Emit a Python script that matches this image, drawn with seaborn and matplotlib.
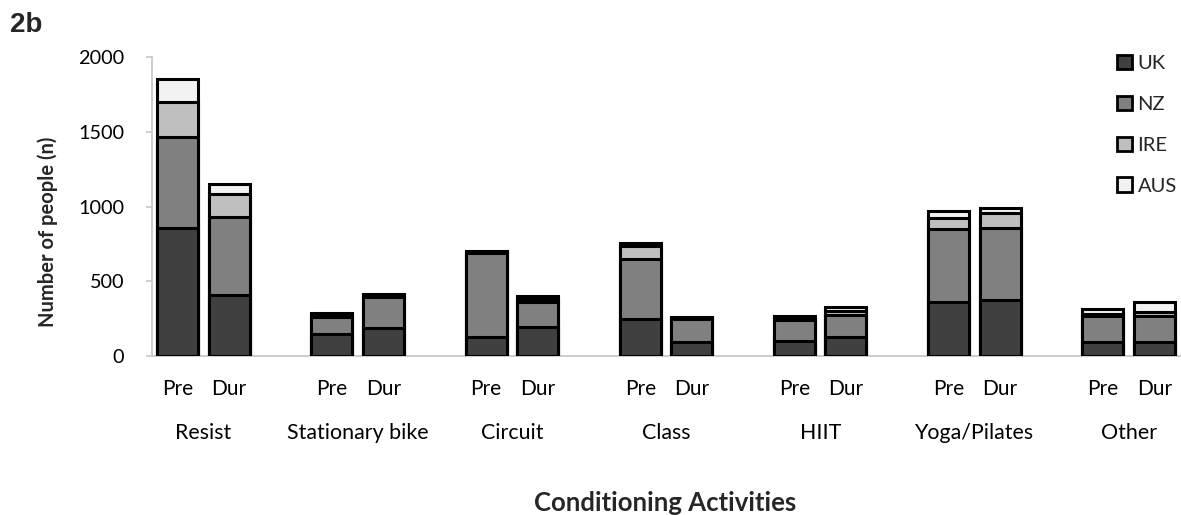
import matplotlib
matplotlib.use("Agg")
import matplotlib.pyplot as plt
from matplotlib.patches import Patch
import seaborn as sns
import pandas as pd
import numpy as np

categories = ["Resist", "Stationary bike", "Circuit", "Class", "HIIT", "Yoga/Pilates", "Other"]
periods = ["Pre", "Dur"]
countries = ["UK", "NZ", "IRE", "AUS"]
# values per bar: (Pre, Dur) for each category in order
uk = [860, 410, 147, 190, 125, 192, 250, 96, 100, 130, 360, 375, 92, 96]
nz = [609, 523, 116, 203, 563, 168, 400, 152, 141, 142, 491, 485, 176, 172]
ire = [233, 150, 10, 12, 8, 22, 87, 5, 12, 28, 74, 96, 15, 27]
aus = [152, 67, 13, 8, 10, 22, 22, 6, 15, 30, 46, 34, 32, 65]
yticks = [0, 500, 1000, 1500, 2000]

colors = {"UK": "#404040", "NZ": "#808080", "IRE": "#bfbfbf", "AUS": "#f2f2f2"}

rows = []
for k, cat in enumerate(categories):
    for j, per in enumerate(periods):
        i = 2 * k + j
        rows.append({"category": cat, "period": per, "pos": 3 * k + j,
                     "UK": uk[i], "NZ": nz[i], "IRE": ire[i], "AUS": aus[i]})
df = pd.DataFrame(rows)
cum = 0
for c in countries:
    cum = cum + df[c]
    df["cum_" + c] = cum

sns.set_theme(style="white")
plt.rcParams["font.family"] = ["Lato", "DejaVu Sans"]

W, H = 1181, 515
fig = plt.figure(figsize=(W / 100, H / 100), dpi=100)
ax = fig.add_axes([152 / W, 1 - 356 / H, (1180 - 152) / W, (356 - 57.3) / H])

for c in reversed(countries):
    sns.barplot(data=df, x="pos", y="cum_" + c, native_scale=True, color=colors[c],
                saturation=1, edgecolor="black", linewidth=2.2, width=0.8,
                errorbar=None, ax=ax, zorder=3)

ax.set_xlim(-0.5, 19.5)
ax.set_ylim(0, 2000)
ax.set_yticks(yticks)
ax.set_yticklabels([str(v) for v in yticks])
ax.set_xticks(df["pos"].tolist())
ax.set_xticklabels(df["period"].tolist())
ax.set_xlabel("")
ax.set_ylabel("")
for s in ["top", "right"]:
    ax.spines[s].set_visible(False)
for s in ["left", "bottom"]:
    ax.spines[s].set_color("#c8c8c8")
    ax.spines[s].set_linewidth(1.3)
ax.tick_params(axis="y", which="major", left=True, length=4, width=1.2, color="#c8c8c8",
               pad=16, labelsize=14.3, labelcolor="black")
ax.tick_params(axis="x", which="major", bottom=False, length=0, pad=16.5, labelsize=15,
               labelcolor="black")

for k, cat in enumerate(categories):
    ax.annotate(cat, xy=(3 * k + 0.5, 0), xycoords=("data", "axes fraction"),
                xytext=(0, -55.5), textcoords="offset points", ha="center", va="center",
                fontsize=15.4, color="black")

fig.text(665 / W, 1 - 503 / H, "Conditioning Activities", ha="center", va="center",
         fontsize=18.5, fontweight="bold")
fig.text(48 / W, 1 - 232 / H, "Number of people (n)", ha="center", va="center",
         rotation=90, fontsize=14.5, fontweight="bold")
fig.text(10 / W, 1 - 25 / H, "2b", ha="left", va="center", fontsize=20,
         fontweight="bold", family=["Liberation Sans", "DejaVu Sans"])

handles = [Patch(facecolor=colors[c], edgecolor="black", linewidth=2) for c in countries]
leg = fig.legend(handles, countries, loc="upper left", bbox_to_anchor=(1109 / W, 1 - 47 / H),
                 frameon=False, fontsize=14.5, handlelength=0.72, handleheight=0.72,
                 handletextpad=0.3, labelspacing=1.17, borderaxespad=0)

fig.savefig("out.png", dpi=100)
